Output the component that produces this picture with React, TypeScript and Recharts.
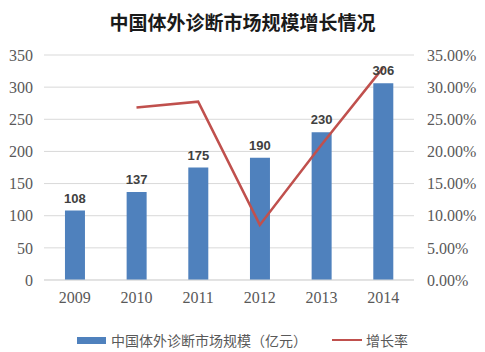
import {
  ComposedChart, Bar, Line, XAxis, YAxis, CartesianGrid, Legend, LabelList,
} from "recharts";

const years = ["2009", "2010", "2011", "2012", "2013", "2014"];
const marketSize = [108, 137, 175, 190, 230, 306];
const growthRate = [null, 0.2685, 0.2774, 0.0857, 0.2105, 0.3304];

const leftTicks = [0, 50, 100, 150, 200, 250, 300, 350];
const rightTicks = [0, 0.05, 0.1, 0.15, 0.2, 0.25, 0.3, 0.35];

const BAR_NAME = "中国体外诊断市场规模（亿元）";
const LINE_NAME = "增长率";

const data = years.map((year, i) => ({
  year,
  size: marketSize[i],
  rate: growthRate[i],
}));

const serif = "'Liberation Serif', 'Times New Roman', serif";
const cjk = "'Noto Sans CJK SC', sans-serif";
const tickStyle = { fill: "#595959", fontSize: 16, fontFamily: serif };

function LegendContent() {
  return (
    <div
      style={{
        display: "flex",
        justifyContent: "center",
        alignItems: "center",
        paddingTop: 22,
        fontFamily: cjk,
        fontSize: 14,
        color: "#595959",
        lineHeight: "16px",
      }}
    >
      <span style={{ display: "inline-block", width: 29, height: 7, background: "#4F81BD", marginRight: 5 }} />
      <span>{BAR_NAME}</span>
      <span style={{ display: "inline-block", width: 30, height: 2.5, background: "#C0504D", marginLeft: 25, marginRight: 4 }} />
      <span>{LINE_NAME}</span>
    </div>
  );
}

export default function App() {
  return (
    <div style={{ position: "absolute", left: 0, top: 0, width: 485, height: 352, background: "#fff" }}>
      <div
        style={{
          position: "absolute",
          top: 8,
          left: 0,
          width: 485,
          textAlign: "center",
          fontFamily: cjk,
          fontWeight: 700,
          fontSize: 19,
          color: "#1a1a1a",
          lineHeight: "28px",
        }}
      >
        中国体外诊断市场规模增长情况
      </div>
      <ComposedChart
        width={485}
        height={352}
        data={data}
        margin={{ top: 55, right: 0, bottom: 2, left: 0 }}
        barCategoryGap="34%"
      >
        <CartesianGrid vertical={false} stroke="#d9d9d9" yAxisId="left" />
        <XAxis
          dataKey="year"
          tickLine={false}
          axisLine={{ stroke: "#d9d9d9" }}
          tickMargin={6}
          height={30}
          tick={tickStyle}
        />
        <YAxis
          yAxisId="left"
          domain={[0, 350]}
          ticks={leftTicks}
          axisLine={false}
          tickLine={false}
          tickMargin={5}
          width={44}
          tick={tickStyle}
        />
        <YAxis
          yAxisId="right"
          orientation="right"
          domain={[0, 0.35]}
          ticks={rightTicks}
          axisLine={false}
          tickLine={false}
          tickMargin={7}
          width={71}
          tickFormatter={(v: number) => `${(v * 100).toFixed(2)}%`}
          tick={tickStyle}
        />
        <Legend verticalAlign="bottom" height={40} content={<LegendContent />} />
        <Bar yAxisId="left" dataKey="size" name={BAR_NAME} fill="#4F81BD" isAnimationActive={false}>
          <LabelList
            dataKey="size"
            position="top"
            offset={8}
            style={{ fill: "#404040", fontSize: 13, fontWeight: 700, fontFamily: "'Liberation Sans', Arial, sans-serif" }}
          />
        </Bar>
        <Line
          yAxisId="right"
          dataKey="rate"
          name={LINE_NAME}
          stroke="#C0504D"
          strokeWidth={2.5}
          dot={false}
          type="linear"
          isAnimationActive={false}
        />
      </ComposedChart>
    </div>
  );
}
